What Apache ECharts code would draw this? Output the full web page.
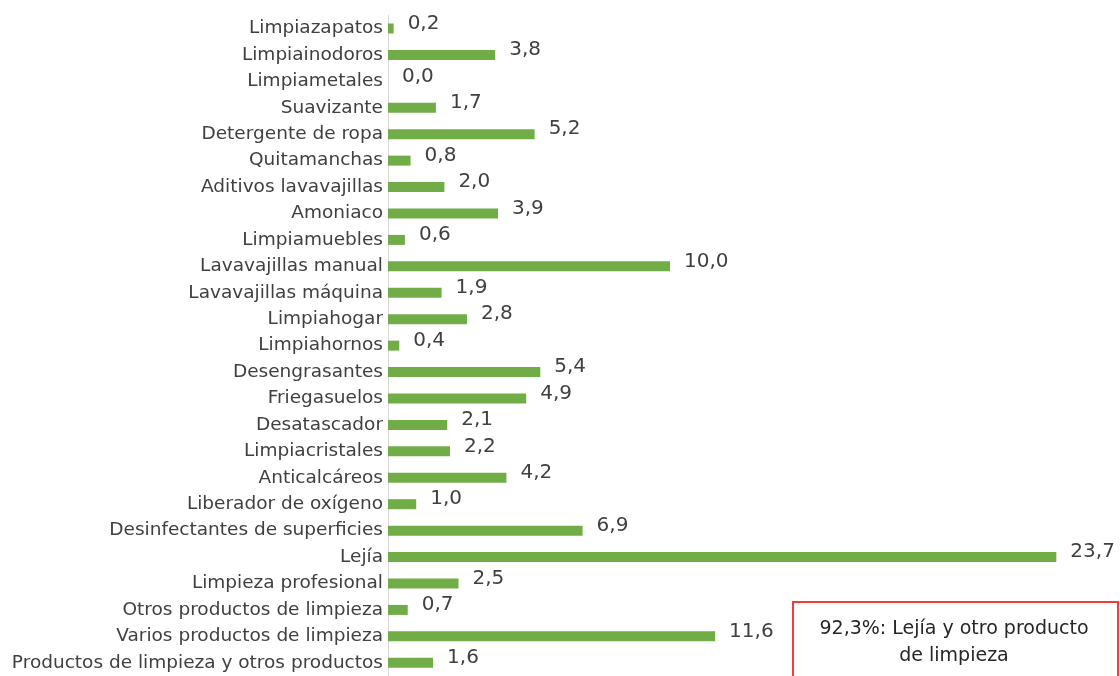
<!DOCTYPE html>
<html><head><meta charset="utf-8">
<script src="https://cdn.jsdelivr.net/npm/echarts@6/dist/echarts.min.js"></script>
<style>html,body{margin:0;padding:0;background:#fff}#c{width:1120px;height:676px}</style>
</head><body><div id="c"></div>
<script>
const categories = ["Limpiazapatos","Limpiainodoros","Limpiametales","Suavizante","Detergente de ropa","Quitamanchas","Aditivos lavavajillas","Amoniaco","Limpiamuebles","Lavavajillas manual","Lavavajillas máquina","Limpiahogar","Limpiahornos","Desengrasantes","Friegasuelos","Desatascador","Limpiacristales","Anticalcáreos","Liberador de oxígeno","Desinfectantes de superficies","Lejía","Limpieza profesional","Otros productos de limpieza","Varios productos de limpieza","Productos de limpieza y otros productos"];
const values = [0.2,3.8,0.0,1.7,5.2,0.8,2.0,3.9,0.6,10.0,1.9,2.8,0.4,5.4,4.9,2.1,2.2,4.2,1.0,6.9,23.7,2.5,0.7,11.6,1.6];
const noteText = "92,3%: Lejía y otro producto\nde limpieza";
const FONT = "DejaVu Sans";
const chart = echarts.init(document.getElementById('c'));
chart.setOption({
  animation:false,
  grid:{left:388, top:15.25, height:662.5, width:705, containLabel:false},
  xAxis:{type:'value', min:0, max:25, show:false},
  yAxis:{type:'category', inverse:true, data:categories,
    axisLine:{show:true, lineStyle:{color:'#d9d9d9', width:1}},
    axisTick:{show:false},
    axisLabel:{margin:5, color:'#404040', fontFamily:FONT, fontSize:18.5}
  },
  series:[{type:'bar', data:values, barWidth:10, itemStyle:{color:'#70AD47'},
    label:{show:true, position:'right', distance:14, offset:[0,-5], color:'#404040', fontFamily:FONT, fontSize:20,
      formatter:p=>p.value.toFixed(1).replace('.',',')}}],
  graphic:[
    {type:'rect', shape:{x:793, y:602, width:325, height:100}, style:{fill:'#fff', stroke:'#f03c3c', lineWidth:2}, z:10},
    {type:'text', x:954, y:642.5, style:{text:noteText, fill:'#262626', font:'19px "'+FONT+'"', textAlign:'center', textVerticalAlign:'middle', lineHeight:27}, z:11}
  ]
});
</script></body></html>
